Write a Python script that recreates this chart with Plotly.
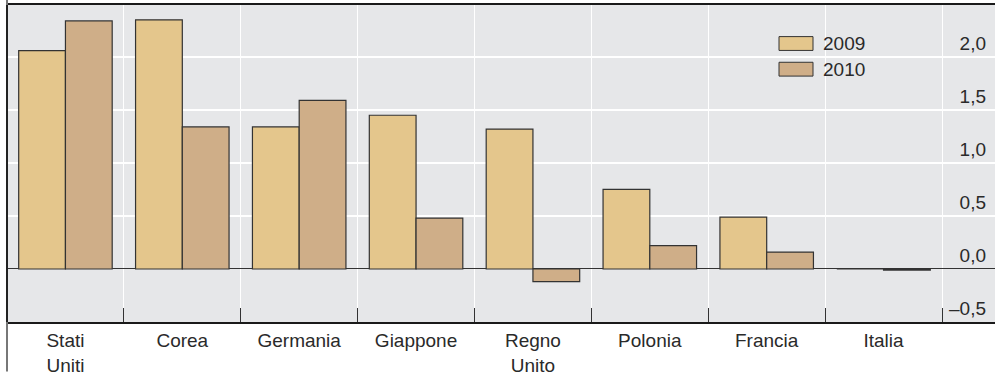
import plotly.graph_objects as go

categories = ["Stati<br>Uniti", "Corea", "Germania", "Giappone", "Regno<br>Unito",
              "Polonia", "Francia", "Italia"]
series_names = ["2009", "2010"]
values_2009 = [2.06, 2.35, 1.34, 1.45, 1.32, 0.75, 0.49, 0.0]
values_2010 = [2.34, 1.34, 1.59, 0.48, -0.12, 0.22, 0.16, -0.01]
y_ticks = [-0.5, 0.0, 0.5, 1.0, 1.5, 2.0]
y_tick_labels = ["\u20130,5", "0,0", "0,5", "1,0", "1,5", "2,0"]

W, H = 995, 376
ML, MR, MT, MB = 7, 0, 5, 50
PW, PH = W - ML - MR, H - MT - MB

def px_x(px):
    return (px - ML) / PW

def px_y(py):
    return (H - MB - py) / PH

colors = ["#e4c68c", "#cfae88"]
outline = "#333333"
font_family = "Liberation Sans, Arial, sans-serif"
text_color = "#2a2a2a"
FS = 19

fig = go.Figure()
for name, vals, col in zip(series_names, [values_2009, values_2010], colors):
    fig.add_trace(go.Bar(
        x=categories, y=vals, name=name,
        marker=dict(color=col, line=dict(color=outline, width=1.2)),
        showlegend=False,
    ))

cat_px = 935 / len(categories)
x_end = -0.5 + PW / cat_px

fig.update_layout(
    width=W, height=H,
    margin=dict(l=ML, r=MR, t=MT, b=MB, pad=0),
    paper_bgcolor="white",
    plot_bgcolor="#e6e7e9",
    barmode="group",
    bargap=0.2,
    bargroupgap=0,
    font=dict(family=font_family, size=FS, color=text_color),
    xaxis=dict(
        type="category",
        range=[-0.5, x_end],
        tickson="boundaries",
        ticks="inside",
        ticklen=14,
        tickwidth=1,
        tickcolor="#333333",
        showgrid=True,
        gridcolor="white",
        gridwidth=1.2,
        showline=True,
        mirror=True,
        linecolor="#1a1a1a",
        linewidth=2.2,
        tickfont=dict(size=FS, color=text_color),
        fixedrange=True,
    ),
    yaxis=dict(
        range=[-0.5, 2.49],
        side="right",
        tickvals=y_ticks,
        ticktext=y_tick_labels,
        ticklabelposition="inside top",
        ticklabelstandoff=6,
        ticks="",
        showgrid=True,
        gridcolor="white",
        gridwidth=1.5,
        zeroline=True,
        zerolinecolor="#333333",
        zerolinewidth=1.2,
        showline=False,
        tickfont=dict(size=FS, color=text_color),
        fixedrange=True,
    ),
)

# left border line extending full height (lighter outside the plot frame)
fig.add_shape(type="line", xref="paper", yref="paper",
              x0=0, x1=0, y0=px_y(376), y1=px_y(0),
              line=dict(color="#777777", width=2), layer="above")
fig.add_shape(type="line", xref="paper", yref="paper",
              x0=0, x1=0, y0=0, y1=1,
              line=dict(color="#222222", width=2), layer="above")

# custom legend
leg_rows = [(37, 51), (63, 77)]
for name, col, (ty, by) in zip(series_names, colors, leg_rows):
    fig.add_shape(type="rect", xref="paper", yref="paper",
                  x0=px_x(779), x1=px_x(813), y0=px_y(by), y1=px_y(ty),
                  fillcolor=col, line=dict(color=outline, width=1), layer="above")
    fig.add_annotation(xref="paper", yref="paper", x=px_x(821), y=px_y((ty + by) / 2),
                       text=name, showarrow=False, xanchor="left", yanchor="middle",
                       font=dict(size=FS, color=text_color, family=font_family))

fig.write_html("out.html",
               config={"displayModeBar": False},
               post_script="document.body.style.margin='0';document.body.style.padding='0';")
